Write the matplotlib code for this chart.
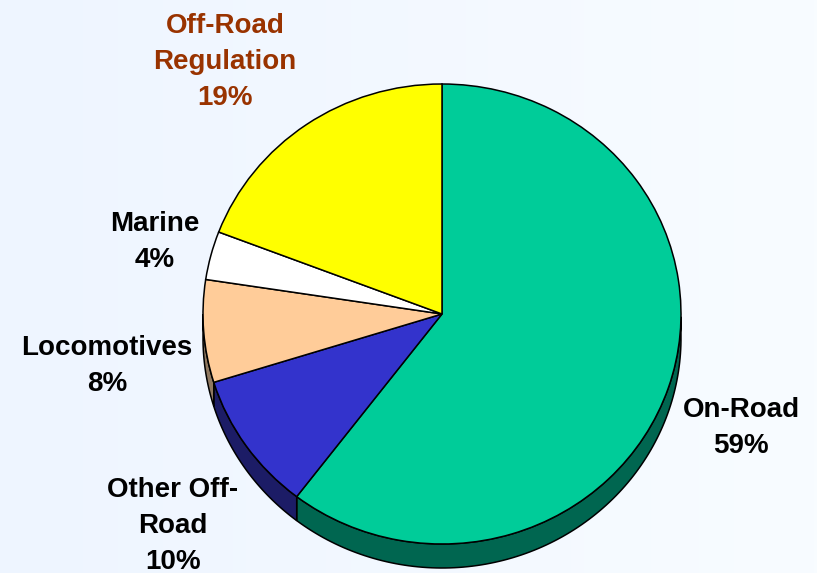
import numpy as np
import matplotlib
matplotlib.use("Agg")
import matplotlib.pyplot as plt

categories = ["On-Road", "Other Off-\nRoad", "Locomotives", "Marine", "Off-Road\nRegulation"]
printed_percent = [59, 10, 8, 4, 19]
slice_shares = [60.4, 9.8, 7.2, 3.4, 19.2]
top_colors = ["#00CC99", "#3333CC", "#FFCC99", "#FFFFFF", "#FFFF00"]
wall_colors = ["#006650", "#1C1C66", "#8F7860", "#808080", "#808000"]
label_colors = ["black", "black", "black", "black", "#993300"]
label_pos_px = [(741, 428), (173, 526), (107, 366), (155, 242), (225, 62)]

W, H = 817, 573
CX, CY, RX, RY, DEPTH = 442, 314, 239, 230, 24

plt.rcParams["font.family"] = ["Liberation Sans", "DejaVu Sans"]
fig = plt.figure(figsize=(W / 100, H / 100), dpi=100)

bg = fig.add_axes([0, 0, 1, 1], zorder=0)
grad = np.linspace(0, 1, 256).reshape(1, -1)
bg.imshow(grad, aspect="auto", cmap=matplotlib.colors.LinearSegmentedColormap.from_list("b", ["#EEF5FF", "#F8FCFF"]))
bg.axis("off")

ax = fig.add_axes([0, 0, 1, 1], zorder=1)
ax.patch.set_alpha(0)
d = DEPTH / RY

# slice edges, clockwise from 12 o'clock, in degrees
edges = 90 - 3.6 * np.cumsum([0] + slice_shares)
for hi, lo, col in zip(edges[:-1], edges[1:], wall_colors):
    # the rim is visible only where the slice lies in the lower half of the ellipse
    arc = np.linspace(lo, hi, 200)
    arc = arc[np.sin(np.radians(arc)) <= 0]
    if arc.size < 2:
        continue
    t = np.radians(arc)
    x, y = np.cos(t), np.sin(t)
    ax.fill(np.r_[x, x[::-1]], np.r_[y, y[::-1] - d], facecolor=col, edgecolor="black", linewidth=1.1, zorder=1)

ax.pie(slice_shares, colors=top_colors, startangle=90, counterclock=False, radius=1,
       wedgeprops={"edgecolor": "black", "linewidth": 1.1, "zorder": 2})
ax.set_aspect("auto")
ax.set_xlim(-CX / RX, (W - CX) / RX)
ax.set_ylim(-(H - CY) / RY, CY / RY)
ax.axis("off")

for name, pct, c, (px, py) in zip(categories, printed_percent, label_colors, label_pos_px):
    fig.text(px / W, 1 - py / H, f"{name}\n{pct}%", ha="center", va="center", ma="center",
             fontsize=20, fontweight="bold", color=c, linespacing=1.48)

fig.savefig("out.png", dpi=100)
